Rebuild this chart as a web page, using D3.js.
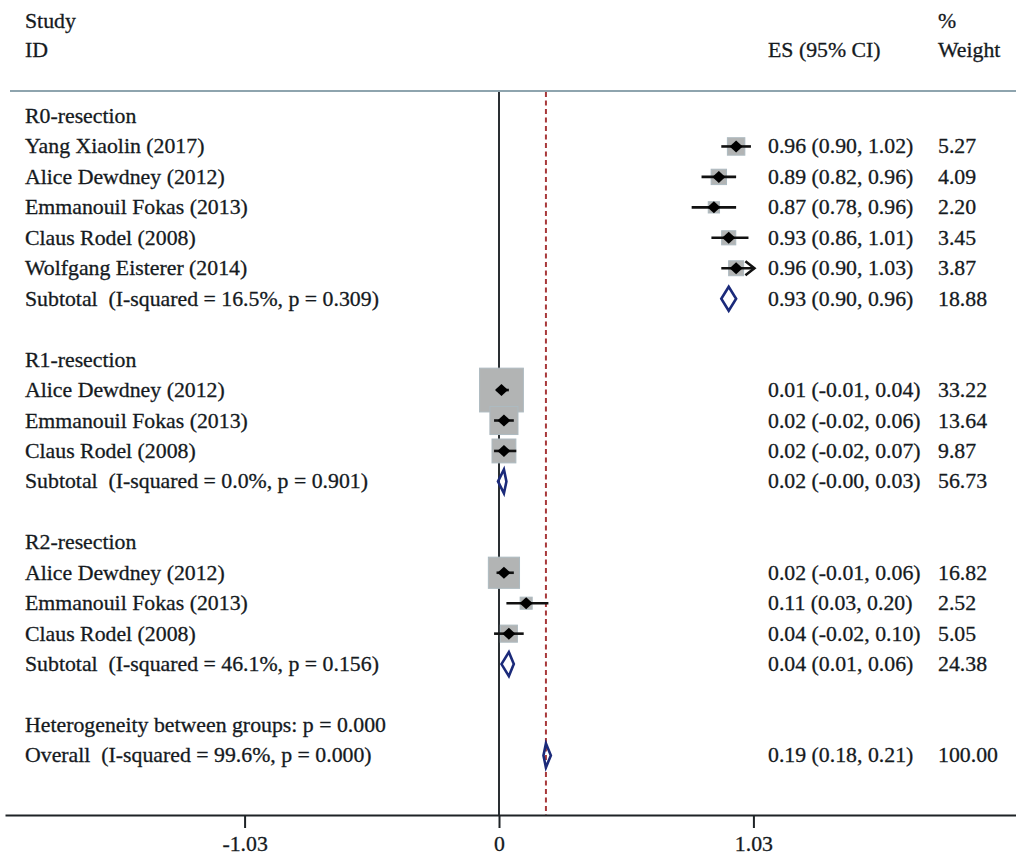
<!DOCTYPE html>
<html>
<head>
<meta charset="utf-8">
<script src="https://cdn.jsdelivr.net/npm/d3@7"></script>
<style>
  html, body { margin: 0; padding: 0; background: #ffffff; }
  svg { display: block; }
  text { font-family: "Liberation Serif", "Times New Roman", serif; font-size: 21.8px; fill: #151a1e; stroke: #151a1e; stroke-width: 0.3px; white-space: pre; }
</style>
</head>
<body>
<svg id="chart" width="1016" height="858"></svg>
<script>
// Subgroup headers
const groups = ["R0-resection", "R1-resection", "R2-resection"];

// Individual studies
const studyNames = [
  "Yang Xiaolin (2017)", "Alice Dewdney (2012)", "Emmanouil Fokas (2013)", "Claus Rodel (2008)", "Wolfgang Eisterer (2014)",
  "Alice Dewdney (2012)", "Emmanouil Fokas (2013)", "Claus Rodel (2008)",
  "Alice Dewdney (2012)", "Emmanouil Fokas (2013)", "Claus Rodel (2008)"
];
const studyGroup  = [0, 0, 0, 0, 0, 1, 1, 1, 2, 2, 2];
const studyES     = [0.96, 0.89, 0.87, 0.93, 0.96, 0.01, 0.02, 0.02, 0.02, 0.11, 0.04];
const studyLo     = [0.90, 0.82, 0.78, 0.86, 0.90, -0.01, -0.02, -0.02, -0.01, 0.03, -0.02];
const studyHi     = [1.02, 0.96, 0.96, 1.01, 1.034, 0.04, 0.06, 0.07, 0.06, 0.20, 0.10];
const studyWeight = [5.27, 4.09, 2.20, 3.45, 3.87, 33.22, 13.64, 9.87, 16.82, 2.52, 5.05];

// Pooled estimates per subgroup
const subtotalLabels = [
  "Subtotal  (I-squared = 16.5%, p = 0.309)",
  "Subtotal  (I-squared = 0.0%, p = 0.901)",
  "Subtotal  (I-squared = 46.1%, p = 0.156)"
];
const subtotalES     = [0.93, 0.02, 0.04];
const subtotalLo     = [0.90, -0.004, 0.01];
const subtotalHi     = [0.96, 0.03, 0.06];
const subtotalWeight = [18.88, 56.73, 24.38];

// Overall estimate
const heterogeneityLabel = "Heterogeneity between groups: p = 0.000";
const overallLabel  = "Overall  (I-squared = 99.6%, p = 0.000)";
const overallES     = 0.19;
const overallLo     = 0.18;
const overallHi     = 0.21;
const overallWeight = 100.00;

// Axis ticks
const tickValues = [-1.03, 0, 1.03];
const tickLabels = ["-1.03", "0", "1.03"];

// ---------------------------------------------------------------
const svg = d3.select("#chart");
const W = 1016, H = 858;

const x = d3.scaleLinear().domain([-2, 2.1]).range([5, 5 + 4.1 * 247]);
const axisMax = 1.03;

const rowTop = 116, rowStep = 30.45;
const rowY = i => rowTop + i * rowStep;
const axisY = 815, plotTop = 92;

const labelX = 25, esX = 768, wtX = 938;
const fmt = v => v.toFixed(2);
const ciText = (e, l, h) => `${fmt(e)} (${fmt(l)}, ${fmt(h)})`;

// Build the row list
const rows = [];
groups.forEach((g, gi) => {
  rows.push({ type: "group", label: g });
  studyNames.forEach((n, i) => {
    if (studyGroup[i] === gi) {
      rows.push({ type: "study", label: n, es: studyES[i], lo: studyLo[i], hi: studyHi[i], w: studyWeight[i] });
    }
  });
  rows.push({ type: "subtotal", label: subtotalLabels[gi], es: subtotalES[gi], lo: subtotalLo[gi], hi: subtotalHi[gi], w: subtotalWeight[gi] });
  rows.push({ type: "blank" });
});
rows.push({ type: "het", label: heterogeneityLabel });
rows.push({ type: "overall", label: overallLabel, es: overallES, lo: overallLo, hi: overallHi, w: overallWeight });
rows.forEach((r, i) => r.y = rowY(i));

// Header
const header = svg.append("g");
header.append("text").attr("x", labelX).attr("y", 28).text("Study");
header.append("text").attr("x", labelX).attr("y", 57).text("ID");
header.append("text").attr("x", esX).attr("y", 57).text("ES (95% CI)");
header.append("text").attr("x", wtX).attr("y", 28).text("%");
header.append("text").attr("x", wtX).attr("y", 57).text("Weight");
header.append("line")
  .attr("x1", 10).attr("x2", W).attr("y1", 91).attr("y2", 91)
  .attr("stroke", "#8ea4ae").attr("stroke-width", 2);

// Reference lines
svg.append("line")
  .attr("x1", x(0)).attr("x2", x(0)).attr("y1", plotTop).attr("y2", axisY)
  .attr("stroke", "#2a2f33").attr("stroke-width", 2);
svg.append("line")
  .attr("x1", x(overallES)).attr("x2", x(overallES)).attr("y1", plotTop).attr("y2", axisY)
  .attr("stroke", "#a8383a").attr("stroke-width", 2).attr("stroke-dasharray", "5,3.5");

// Weight boxes
const boxK = 7.6;
const studyRows = rows.filter(r => r.type === "study");
svg.append("g").selectAll("rect").data(studyRows).join("rect")
  .attr("x", d => x(d.es) - boxK * Math.sqrt(d.w) / 2)
  .attr("y", d => d.y - boxK * Math.sqrt(d.w) / 2)
  .attr("width", d => boxK * Math.sqrt(d.w))
  .attr("height", d => boxK * Math.sqrt(d.w))
  .attr("fill", "#b2b4b4")
  .attr("stroke", "#adbac0").attr("stroke-width", 1);

// Confidence intervals
svg.append("g").selectAll("line").data(studyRows).join("line")
  .attr("x1", d => x(d.lo)).attr("x2", d => x(d.hi))
  .attr("y1", d => d.y).attr("y2", d => d.y)
  .attr("stroke", "#111").attr("stroke-width", 2.6);

// Arrows where the interval runs past the axis labels
svg.append("g").selectAll("path").data(studyRows.filter(d => d.hi > axisMax)).join("path")
  .attr("d", d => {
    const xe = x(d.hi);
    return `M${xe - 9},${d.y - 7} L${xe},${d.y} L${xe - 9},${d.y + 7}`;
  })
  .attr("fill", "none").attr("stroke", "#111").attr("stroke-width", 2.6);

// Point estimates
svg.append("g").selectAll("path").data(studyRows).join("path")
  .attr("d", d => {
    const cx = x(d.es), cy = d.y;
    return `M${cx - 6.5},${cy} L${cx},${cy - 6} L${cx + 6.5},${cy} L${cx},${cy + 6} Z`;
  })
  .attr("fill", "#000");

// Pooled diamonds
const pooled = rows.filter(r => r.type === "subtotal" || r.type === "overall");
svg.append("g").selectAll("path").data(pooled).join("path")
  .attr("d", d => {
    const cy = d.y, h = 12;
    return `M${x(d.lo)},${cy} L${x(d.es)},${cy - h} L${x(d.hi)},${cy} L${x(d.es)},${cy + h} Z`;
  })
  .attr("fill", "none")
  .attr("stroke", "#1b2a7a").attr("stroke-width", 2.6).attr("stroke-linejoin", "miter");

// Left labels
svg.append("g").selectAll("text").data(rows.filter(r => r.label)).join("text")
  .attr("x", labelX).attr("y", d => d.y + 7)
  .attr("xml:space", "preserve")
  .text(d => d.label);

// Estimate and weight columns
const valued = rows.filter(r => r.es !== undefined);
svg.append("g").selectAll("text").data(valued).join("text")
  .attr("x", esX).attr("y", d => d.y + 7).text(d => ciText(d.es, d.lo, d.hi));
svg.append("g").selectAll("text").data(valued).join("text")
  .attr("x", wtX).attr("y", d => d.y + 7).text(d => fmt(d.w));

// Axis
const axis = d3.axisBottom(x)
  .tickValues(tickValues)
  .tickFormat((d, i) => tickLabels[i])
  .tickSizeInner(13).tickSizeOuter(0).tickPadding(8);
const ax = svg.append("g").attr("transform", `translate(0,${axisY})`).call(axis);
ax.select(".domain").attr("stroke", "#1e2326").attr("stroke-width", 2);
ax.selectAll(".tick line").attr("stroke", "#1e2326").attr("stroke-width", 2);
ax.selectAll(".tick text")
  .attr("font-family", "Liberation Serif, Times New Roman, serif")
  .attr("font-size", 21.8).attr("fill", "#151a1e");
</script>
</body>
</html>
